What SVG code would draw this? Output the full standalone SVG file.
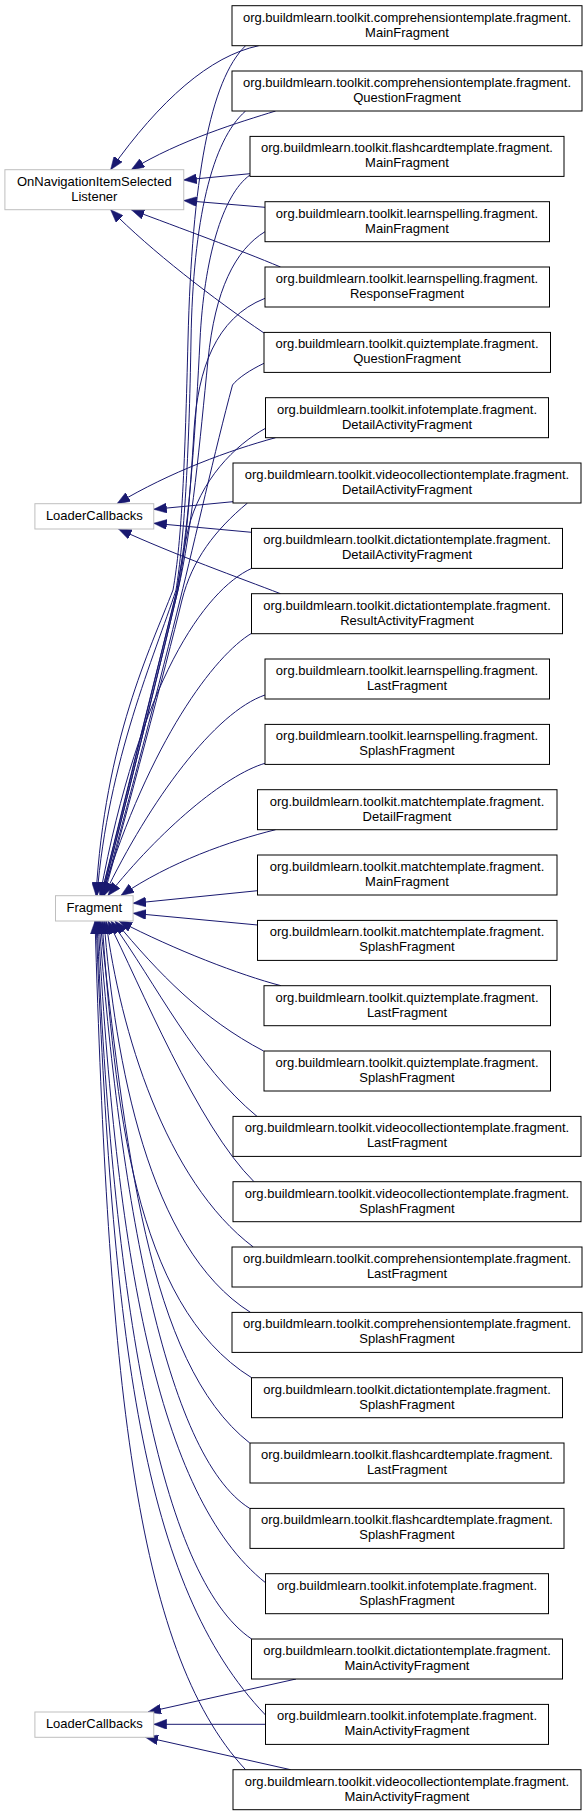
<svg xmlns="http://www.w3.org/2000/svg" width="588" height="1816" viewBox="0 0 588 1816">
<style>
.n rect{fill:#fff;stroke:#000;stroke-width:1}
.b rect{fill:#fff;stroke:#bfbfbf;stroke-width:1}
text{font-family:"Liberation Sans",Arial,Helvetica,sans-serif;font-size:13px;fill:#000;text-anchor:middle}
.e path{fill:none;stroke:#191970;stroke-width:1;marker-end:url(#ah)}
</style>
<defs>
<marker id="ah" markerUnits="userSpaceOnUse" viewBox="0 0 13 10" markerWidth="13" markerHeight="10" refX="13" refY="5" orient="auto">
<path d="M0,0 L13,5 L0,10 Z" fill="#191970" stroke="#191970" stroke-width="0.5"/>
</marker>
</defs>
<rect x="0" y="0" width="588" height="1816" fill="#fff"/>
<g id="connectors" class="e">
<path d="M258.75,45.7 C210,56 160,100 110.6,169.7"/>
<path d="M275.6,111 C240,122 180,140 131.3,169.7"/>
<path d="M250,173.7 L183.75,180"/>
<path d="M265,207.3 L183.75,200.5"/>
<path d="M280.5,267 C240,250 180,228 131.3,209.7"/>
<path d="M264,333 C215,300 150,250 110.6,209.7"/>
<path d="M275.6,437.7 C230,450 170,472 117,503.7"/>
<path d="M233,501.7 L153.75,509.3"/>
<path d="M251.5,532.3 L153.75,523.3"/>
<path d="M280.5,593.7 C240,578 175,555 118.5,529"/>
<path d="M296,1679 L148,1712"/>
<path d="M265.5,1724.3 L153.75,1724.3"/>
<path d="M290.6,1769.7 L145,1737"/>
<path d="M245.6,45.7 C210,80 192,180 188,340 C185,460 182,540 173,590 C150,650 105,740 96,895.5"/>
<path d="M245.6,111 C212,140 193,220 191,340 C189,460 184,540 176,590 C155,655 108,760 97,895.5"/>
<path d="M250,175 C222,195 204,260 200,340 C196,420 190,520 177,590 C158,666 120,819 101,895.5"/>
<path d="M265,231.7 C235,250 215,290 208,360 C200,440 192,530 178,590 C160,666 122,819 102,895.5"/>
<path d="M265,298.3 C215,318 198,370 194,430 C190,500 185,555 178,590 C160,666 122,819 102,895.5"/>
<path d="M264,363.3 C250,370 238,378 232.5,385 C215,450 195,540 180,600 C163,670 124,819 103,895.5"/>
<path d="M265.5,428.3 C235,445 200,480 188,530 C183,555 179,575 177,590 C158,666 121,819 101,895.5"/>
<path d="M247.5,503 C215,530 192,560 182,600 C165,670 126,815 104,895.5"/>
<path d="M251.6,568.4 C205,590 140,680 100,895.5"/>
<path d="M251.6,633.3 C215,655 150,740 102,895.5"/>
<path d="M265,695 C215,712 150,800 104,895.5"/>
<path d="M265,763.3 C225,775 160,830 108,895.5"/>
<path d="M275.6,829.7 C230,841 170,862 121,895.5"/>
<path d="M257.5,890.7 L133,903.3"/>
<path d="M257.5,925 L133,913.3"/>
<path d="M281,985.7 C240,975 175,950 119,921"/>
<path d="M263.6,1051 C202.6,1019 159,974 115,921"/>
<path d="M257,1116.4 C195.4,1065.5 157.4,985.8 111,921"/>
<path d="M254,1181.7 C197.2,1125.7 139.5,983.3 108,921"/>
<path d="M253.3,1247 C165.3,1180.7 120,1030 106,921"/>
<path d="M250.5,1312.4 C148,1248 115,1060 104,921"/>
<path d="M251.6,1377.7 C132.6,1304.1 115,1100 102,921"/>
<path d="M249.75,1443 C147,1362.7 125,1141 100,921"/>
<path d="M249.75,1508.4 C164.75,1456 119,1191 99,921"/>
<path d="M265.5,1582.7 C156.3,1495.9 116,1251 98,921"/>
<path d="M251.6,1639 C160.3,1577.3 112,1301 97,921"/>
<path d="M265.5,1715 C141.3,1585.4 112.8,1341 96,921"/>
<path d="M245.6,1769.7 C133.4,1649.5 108.5,1371 95,921"/>
</g>
<g id="OnNavigationItemSelectedListener" class="b"><rect x="4.9" y="169.7" width="178.85" height="40"/><text x="94.3" y="186">OnNavigationItemSelected</text><text x="94.3" y="201">Listener</text></g>
<g id="LoaderCallbacks1" class="b"><rect x="34.9" y="503.7" width="118.85" height="25.3"/><text x="94.3" y="519.5">LoaderCallbacks</text></g>
<g id="Fragment" class="b"><rect x="55.5" y="895.7" width="77.6" height="25.3"/><text x="94.3" y="912">Fragment</text></g>
<g id="LoaderCallbacks2" class="b"><rect x="34.9" y="1712" width="118.85" height="25.3"/><text x="94.3" y="1727.8">LoaderCallbacks</text></g>
<g id="n0" class="n"><rect x="232" y="5.7" width="350" height="40"/><text x="407" y="21.7">org.buildmlearn.toolkit.comprehensiontemplate.fragment.</text><text x="407" y="36.7">MainFragment</text></g>
<g id="n1" class="n"><rect x="232" y="71" width="350" height="40"/><text x="407" y="87">org.buildmlearn.toolkit.comprehensiontemplate.fragment.</text><text x="407" y="102">QuestionFragment</text></g>
<g id="n2" class="n"><rect x="250" y="136.4" width="314" height="40"/><text x="407" y="152.4">org.buildmlearn.toolkit.flashcardtemplate.fragment.</text><text x="407" y="167.4">MainFragment</text></g>
<g id="n3" class="n"><rect x="265" y="201.7" width="284.5" height="40"/><text x="407" y="217.7">org.buildmlearn.toolkit.learnspelling.fragment.</text><text x="407" y="232.7">MainFragment</text></g>
<g id="n4" class="n"><rect x="265" y="267" width="284.5" height="40"/><text x="407" y="283">org.buildmlearn.toolkit.learnspelling.fragment.</text><text x="407" y="298">ResponseFragment</text></g>
<g id="n5" class="n"><rect x="264" y="332.4" width="286.5" height="40"/><text x="407" y="348.4">org.buildmlearn.toolkit.quiztemplate.fragment.</text><text x="407" y="363.4">QuestionFragment</text></g>
<g id="n6" class="n"><rect x="265.5" y="397.7" width="283" height="40"/><text x="407" y="413.7">org.buildmlearn.toolkit.infotemplate.fragment.</text><text x="407" y="428.7">DetailActivityFragment</text></g>
<g id="n7" class="n"><rect x="233" y="463" width="348" height="40"/><text x="407" y="479">org.buildmlearn.toolkit.videocollectiontemplate.fragment.</text><text x="407" y="494">DetailActivityFragment</text></g>
<g id="n8" class="n"><rect x="251.5" y="528.4" width="311" height="40"/><text x="407" y="544.4">org.buildmlearn.toolkit.dictationtemplate.fragment.</text><text x="407" y="559.4">DetailActivityFragment</text></g>
<g id="n9" class="n"><rect x="251.5" y="593.7" width="311" height="40"/><text x="407" y="609.7">org.buildmlearn.toolkit.dictationtemplate.fragment.</text><text x="407" y="624.7">ResultActivityFragment</text></g>
<g id="n10" class="n"><rect x="265" y="659" width="284.5" height="40"/><text x="407" y="675">org.buildmlearn.toolkit.learnspelling.fragment.</text><text x="407" y="690">LastFragment</text></g>
<g id="n11" class="n"><rect x="265" y="724.4" width="284.5" height="40"/><text x="407" y="740.4">org.buildmlearn.toolkit.learnspelling.fragment.</text><text x="407" y="755.4">SplashFragment</text></g>
<g id="n12" class="n"><rect x="257.5" y="789.7" width="299.5" height="40"/><text x="407" y="805.7">org.buildmlearn.toolkit.matchtemplate.fragment.</text><text x="407" y="820.7">DetailFragment</text></g>
<g id="n13" class="n"><rect x="257.5" y="855" width="299.5" height="40"/><text x="407" y="871">org.buildmlearn.toolkit.matchtemplate.fragment.</text><text x="407" y="886">MainFragment</text></g>
<g id="n14" class="n"><rect x="257.5" y="920.4" width="299.5" height="40"/><text x="407" y="936.4">org.buildmlearn.toolkit.matchtemplate.fragment.</text><text x="407" y="951.4">SplashFragment</text></g>
<g id="n15" class="n"><rect x="264" y="985.7" width="286.5" height="40"/><text x="407" y="1001.7">org.buildmlearn.toolkit.quiztemplate.fragment.</text><text x="407" y="1016.7">LastFragment</text></g>
<g id="n16" class="n"><rect x="264" y="1051" width="286.5" height="40"/><text x="407" y="1067">org.buildmlearn.toolkit.quiztemplate.fragment.</text><text x="407" y="1082">SplashFragment</text></g>
<g id="n17" class="n"><rect x="233" y="1116.4" width="348" height="40"/><text x="407" y="1132.4">org.buildmlearn.toolkit.videocollectiontemplate.fragment.</text><text x="407" y="1147.4">LastFragment</text></g>
<g id="n18" class="n"><rect x="233" y="1181.7" width="348" height="40"/><text x="407" y="1197.7">org.buildmlearn.toolkit.videocollectiontemplate.fragment.</text><text x="407" y="1212.7">SplashFragment</text></g>
<g id="n19" class="n"><rect x="232" y="1247" width="350" height="40"/><text x="407" y="1263">org.buildmlearn.toolkit.comprehensiontemplate.fragment.</text><text x="407" y="1278">LastFragment</text></g>
<g id="n20" class="n"><rect x="232" y="1312.4" width="350" height="40"/><text x="407" y="1328.4">org.buildmlearn.toolkit.comprehensiontemplate.fragment.</text><text x="407" y="1343.4">SplashFragment</text></g>
<g id="n21" class="n"><rect x="251.5" y="1377.7" width="311" height="40"/><text x="407" y="1393.7">org.buildmlearn.toolkit.dictationtemplate.fragment.</text><text x="407" y="1408.7">SplashFragment</text></g>
<g id="n22" class="n"><rect x="250" y="1443" width="314" height="40"/><text x="407" y="1459">org.buildmlearn.toolkit.flashcardtemplate.fragment.</text><text x="407" y="1474">LastFragment</text></g>
<g id="n23" class="n"><rect x="250" y="1508.4" width="314" height="40"/><text x="407" y="1524.4">org.buildmlearn.toolkit.flashcardtemplate.fragment.</text><text x="407" y="1539.4">SplashFragment</text></g>
<g id="n24" class="n"><rect x="265.5" y="1573.7" width="283" height="40"/><text x="407" y="1589.7">org.buildmlearn.toolkit.infotemplate.fragment.</text><text x="407" y="1604.7">SplashFragment</text></g>
<g id="n25" class="n"><rect x="251.5" y="1639" width="311" height="40"/><text x="407" y="1655">org.buildmlearn.toolkit.dictationtemplate.fragment.</text><text x="407" y="1670">MainActivityFragment</text></g>
<g id="n26" class="n"><rect x="265.5" y="1704.4" width="283" height="40"/><text x="407" y="1720.4">org.buildmlearn.toolkit.infotemplate.fragment.</text><text x="407" y="1735.4">MainActivityFragment</text></g>
<g id="n27" class="n"><rect x="233" y="1769.7" width="348" height="40"/><text x="407" y="1785.7">org.buildmlearn.toolkit.videocollectiontemplate.fragment.</text><text x="407" y="1800.7">MainActivityFragment</text></g>
</svg>
